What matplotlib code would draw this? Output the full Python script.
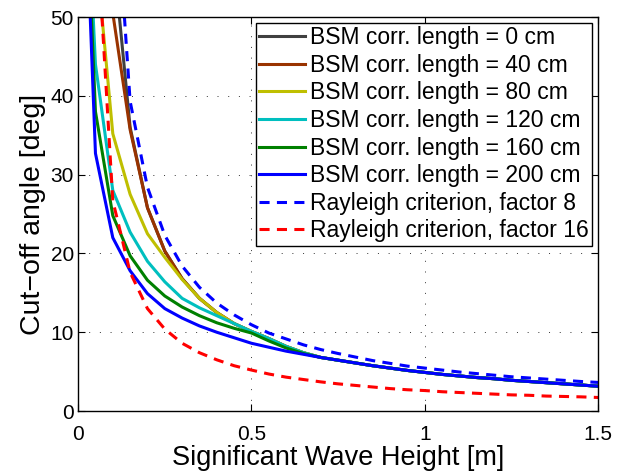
"""Cut-off angle vs significant wave height: BSM curves and Rayleigh criteria."""
import matplotlib
matplotlib.use("Agg")
import matplotlib.pyplot as plt

plt.rcParams['font.family'] = ['Liberation Sans', 'DejaVu Sans']

# wave height grid [m], sampled every 5 cm
h = [0.0, 0.05, 0.10, 0.15, 0.20, 0.25, 0.30, 0.35, 0.40, 0.45, 0.50,
     0.55, 0.60, 0.65, 0.70, 0.75, 0.80, 0.85, 0.90, 0.95, 1.00,
     1.05, 1.10, 1.15, 1.20, 1.25, 1.30, 1.35, 1.40, 1.45, 1.50]

# shared tail of all BSM curves (h >= 0.70)
tail = [6.8, 6.45, 6.1, 5.75, 5.45, 5.15, 4.9, 4.65, 4.45, 4.25, 4.1,
        3.9, 3.75, 3.6, 3.45, 3.3, 3.15]

bsm_0cm   = [90, 90, 58.6, 36.0, 25.8, 20.3, 16.8, 14.3, 12.5, 11.1, 10.1,
             9.2, 8.2, 7.4] + tail
bsm_40cm  = [90, 90, 50.5, 35.7, 25.8, 20.3, 16.8, 14.3, 12.5, 11.1, 10.1,
             9.2, 8.2, 7.4] + tail
bsm_80cm  = [90, 59.0, 35.2, 27.5, 22.5, 19.5, 16.7, 14.3, 12.5, 11.1, 10.1,
             9.2, 8.2, 7.4] + tail
bsm_120cm = [90, 44.0, 28.0, 22.7, 19.0, 16.4, 14.3, 13.1, 12.1, 11.1, 10.1,
             9.2, 8.2, 7.4] + tail
bsm_160cm = [90, 38.0, 24.8, 19.7, 16.6, 14.6, 13.2, 12.1, 11.2, 10.5, 9.9,
             8.9, 8.0, 7.3] + tail
bsm_200cm = [90, 32.7, 22.0, 17.8, 14.9, 13.0, 11.8, 10.8, 10.0, 9.3, 8.6,
             8.1, 7.6, 7.2] + tail

rayleigh_8  = [90, 90, 71.8, 39.3, 28.4, 22.3, 18.4, 15.7, 13.7, 12.2, 10.95,
               9.9, 9.15, 8.4, 7.8, 7.3, 6.85, 6.4, 6.05, 5.7, 5.45,
               5.2, 4.95, 4.75, 4.55, 4.35, 4.2, 4.05, 3.9, 3.75, 3.63]
rayleigh_16 = [90, 64.0, 26.7, 17.6, 13.0, 10.4, 8.6, 7.4, 6.5, 5.75, 5.2,
               4.7, 4.3, 4.0, 3.7, 3.45, 3.25, 3.05, 2.85, 2.7, 2.6,
               2.45, 2.35, 2.25, 2.15, 2.05, 2.0, 1.9, 1.85, 1.8, 1.72]

bsm_series = [bsm_0cm, bsm_40cm, bsm_80cm, bsm_120cm, bsm_160cm, bsm_200cm]
bsm_labels = ["BSM corr. length = 0 cm", "BSM corr. length = 40 cm",
              "BSM corr. length = 80 cm", "BSM corr. length = 120 cm",
              "BSM corr. length = 160 cm", "BSM corr. length = 200 cm"]
bsm_colors = ["#404040", "#993300", "#bfbf00", "#00bfbf", "#008000", "#0000ff"]

fig = plt.figure(figsize=(6.25, 4.73), dpi=100)
ax = fig.add_axes([0.125, 0.131, 0.832, 0.833])

for y, lab, c in zip(bsm_series, bsm_labels, bsm_colors):
    ax.plot(h, y, color=c, lw=2.2, label=lab)
ax.plot(h, rayleigh_8, color="#0000ff", lw=2.2, ls=(0, (3.3, 2.4)),
        label="Rayleigh criterion, factor 8")
ax.plot(h, rayleigh_16, color="#ff0000", lw=2.2, ls=(0, (3.3, 2.4)),
        label="Rayleigh criterion, factor 16")

ax.set_xlim(0, 1.5); ax.set_ylim(0, 50)
ax.set_xticks([0, 0.5, 1, 1.5]); ax.set_xticklabels(["0", "0.5", "1", "1.5"])
ax.set_yticks(range(0, 51, 10))
ax.tick_params(direction="in", top=True, right=True, labelsize=15, length=5, pad=3)
ax.tick_params(axis="x", pad=10)
ax.grid(True, ls=(0, (1, 10)), color="#333333", lw=0.7)
for s in ax.spines.values():
    s.set_linewidth(1.0)
ax.set_xlabel("Significant Wave Height [m]", fontsize=19.5, labelpad=1)
ax.set_ylabel("Cut\u2212off angle [deg]", fontsize=20.5, labelpad=3)

leg = ax.legend(loc="upper right", fontsize=16.5, handlelength=2.0, handletextpad=0.22,
                labelspacing=0.2, borderpad=0.15, borderaxespad=0.25,
                fancybox=False, framealpha=1, edgecolor="black")
leg.get_frame().set_linewidth(1.0)

fig.savefig("out.png", dpi=100)
